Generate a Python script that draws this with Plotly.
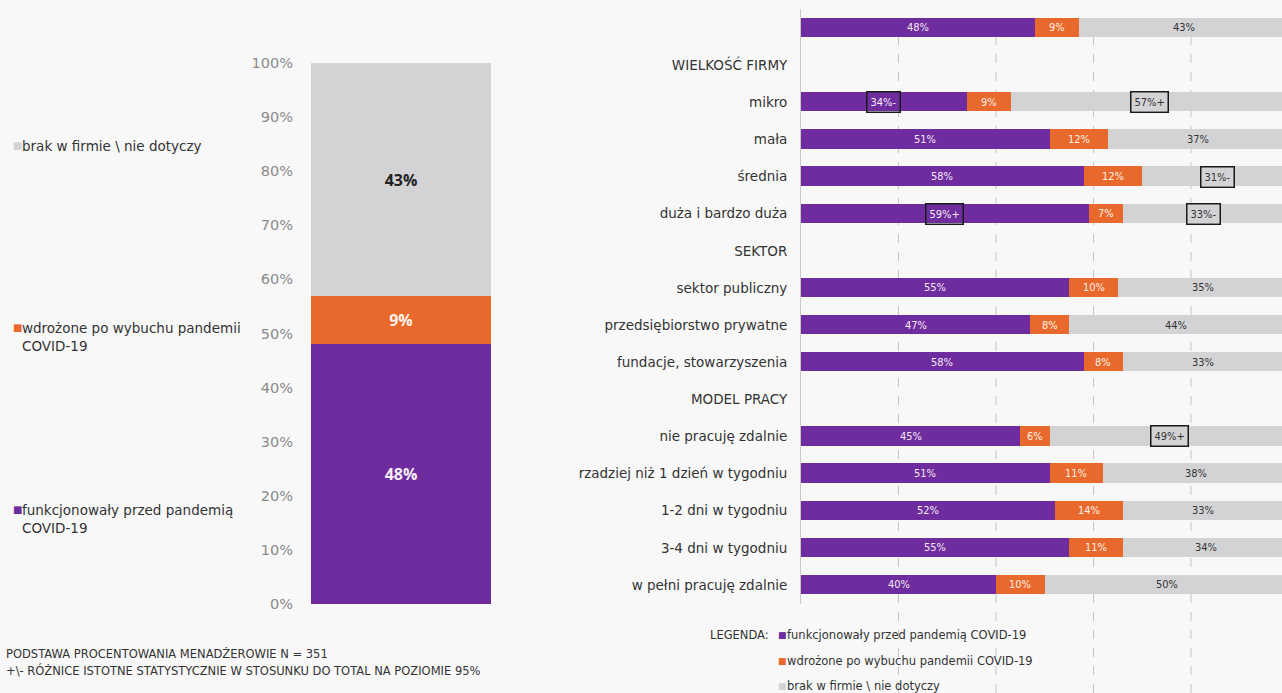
import plotly.graph_objects as go

# ---------------- data ----------------
categories = ["", "WIELKOŚĆ FIRMY", "mikro", "mała", "średnia", "duża i bardzo duża",
              "SEKTOR", "sektor publiczny", "przedsiębiorstwo prywatne", "fundacje, stowarzyszenia",
              "MODEL PRACY", "nie pracuję zdalnie", "rzadziej niż 1 dzień w tygodniu",
              "1-2 dni w tygodniu", "3-4 dni w tygodniu", "w pełni pracuję zdalnie"]
pre =    [48, None, 34, 51, 58, 59, None, 55, 47, 58, None, 45, 51, 52, 55, 40]
post =   [9,  None, 9,  12, 12, 7,  None, 10, 8,  8,  None, 6,  11, 14, 11, 10]
absent = [43, None, 57, 37, 31, 33, None, 35, 44, 33, None, 49, 38, 33, 34, 50]
pre_flag =    ["", "", "-", "", "", "+", "", "", "", "", "", "", "", "", "", ""]
post_flag =   ["", "", "", "", "", "", "", "", "", "", "", "", "", "", "", ""]
absent_flag = ["", "", "+", "", "-", "-", "", "", "", "", "", "+", "", "", "", ""]
series_names = ["funkcjonowały przed pandemią COVID-19",
                "wdrożone po wybuchu pandemii COVID-19",
                "brak w firmie \\ nie dotyczy"]
left_legend = ["brak w firmie \\ nie dotyczy",
               "wdrożone po wybuchu pandemii<br>COVID-19",
               "funkcjonowały przed pandemią<br>COVID-19"]
total_label = "TOTAL"
left_ticks = [0, 10, 20, 30, 40, 50, 60, 70, 80, 90, 100]
grid_x = [20, 40, 60, 80]
footnotes = ["PODSTAWA PROCENTOWANIA MENADŻEROWIE N = 351",
             "+\\- RÓŻNICE ISTOTNE STATYSTYCZNIE W STOSUNKU DO TOTAL NA POZIOMIE 95%"]

# ---------------- style ----------------
W, H = 1282, 693
PURPLE = "#6E2C9E"
ORANGE = "#E8692B"
GREY = "#D3D3D6"
BG = "#F8F8F8"
COND = "DejaVu Sans Condensed, Liberation Sans Narrow, Open Sans, sans-serif"
WIDE = "DejaVu Sans, Verdana, sans-serif"
TXT = "#333333"
colors = [PURPLE, ORANGE, GREY]
label_colors = ["#F6EAF6", "#FFF0E6", "#333333"]


def px(x):
    return x / W


def py(y):
    return 1 - y / H


rows = list(range(len(categories)))
series = [pre, post, absent]
flags = [pre_flag, post_flag, absent_flag]

fig = go.Figure()

# right chart: horizontal stacked bars
for s, name, c in zip(series, series_names, colors):
    fig.add_trace(go.Bar(y=rows, x=s, orientation="h", name=name, marker_color=c,
                         marker_line_width=0, width=0.52, showlegend=False,
                         xaxis="x", yaxis="y"))

# left chart: TOTAL vertical stacked bar
total = [s[0] for s in series]
left_text_colors = ["#FBEFFA", "#FFF2EA", "#222222"]
for v, name, c, tc in zip(total, series_names, colors, left_text_colors):
    fig.add_trace(go.Bar(x=[total_label], y=[v], name=name, marker_color=c,
                         marker_line_width=0, width=1, showlegend=False,
                         text=[f"{v}%"], textposition="inside", insidetextanchor="middle",
                         textangle=0,
                         textfont=dict(size=16, color=tc, family="Open Sans, sans-serif",
                                       weight="bold"),
                         xaxis="x2", yaxis="y2"))

annotations = []
# labels on right chart bars
for i in rows:
    base = 0
    for s, fl, lc in zip(series, flags, label_colors):
        v = s[i]
        if v is None:
            continue
        ann = dict(x=base + v / 2, y=i, xref="x", yref="y", text=f"{v}%{fl[i]}",
                   showarrow=False, font=dict(size=11, color=lc, family=COND))
        if fl[i]:
            ann.update(bordercolor="#1a1a1a", borderwidth=1.5, borderpad=3)
        annotations.append(ann)
        base += v

# left legend (squares + text)
left_leg_y = [145, 327, 509]
left_leg_colors = [GREY, ORANGE, PURPLE]
for t, yy, c in zip(left_legend, left_leg_y, left_leg_colors):
    annotations.append(dict(x=px(11), y=py(yy), xref="paper", yref="paper", text="■",
                            showarrow=False, xanchor="left", yanchor="middle",
                            font=dict(size=10, color=c, family=WIDE)))
    annotations.append(dict(x=px(20), y=py(yy - 9), xref="paper", yref="paper", text=t,
                            showarrow=False, xanchor="left", yanchor="top", align="left",
                            font=dict(size=13.5, color=TXT, family=WIDE)))

# footnotes
for k, t in enumerate(footnotes):
    annotations.append(dict(x=px(4), y=py(653 + 17 * k), xref="paper", yref="paper", text=t,
                            showarrow=False, xanchor="left", yanchor="middle",
                            font=dict(size=11.5, color=TXT, family=WIDE)))

# right legend
annotations.append(dict(x=px(771), y=py(635), xref="paper", yref="paper", text="LEGENDA:",
                        showarrow=False, xanchor="right", yanchor="middle",
                        font=dict(size=11.5, color=TXT, family=WIDE)))
for k, (t, c) in enumerate(zip(series_names, colors)):
    yy = 635 + 25.5 * k
    annotations.append(dict(x=px(776), y=py(yy), xref="paper", yref="paper", text="■",
                            showarrow=False, xanchor="left", yanchor="middle",
                            font=dict(size=9, color=c, family=WIDE)))
    annotations.append(dict(x=px(785), y=py(yy), xref="paper", yref="paper", text=t,
                            showarrow=False, xanchor="left", yanchor="middle",
                            font=dict(size=11.5, color=TXT, family=WIDE)))

# dashed gridlines
shapes = []
for gx in grid_x:
    shapes.append(dict(type="line", xref="x", yref="paper", x0=gx, x1=gx, y0=0, y1=0.9864,
                       line=dict(color="#C4C4C4", width=1, dash="dash"), layer="below"))

x_max = (W - 801) / 4.875

fig.update_layout(
    width=W, height=H,
    margin=dict(l=0, r=0, t=0, b=0, pad=0, autoexpand=False),
    paper_bgcolor=BG, plot_bgcolor=BG,
    barmode="stack", bargap=0,
    font=dict(family=COND, color=TXT),
    showlegend=False,
    annotations=annotations,
    shapes=shapes,
    xaxis=dict(domain=[px(801), 1.0], range=[0, x_max], showgrid=False, zeroline=False,
               showticklabels=False, anchor="y", automargin=False),
    yaxis=dict(domain=[0.1291, 0.9864], range=[15.5, -0.5], tickmode="array",
               tickvals=rows, ticktext=categories, showgrid=False, zeroline=False,
               showline=True, linecolor="#C8C8C8", linewidth=1, ticks="",
               ticklabelstandoff=10, tickfont=dict(size=13.5, color=TXT, family=WIDE),
               anchor="x", automargin=False),
    xaxis2=dict(domain=[px(311), px(491)], range=[-0.5, 0.5], showgrid=False,
                zeroline=False, showticklabels=False, anchor="y2", automargin=False),
    yaxis2=dict(domain=[py(604), py(63)], range=[0, 100], tickmode="array",
                tickvals=left_ticks, ticktext=[f"{t}%" for t in left_ticks],
                showgrid=False, zeroline=False,
                ticks="", ticklabelstandoff=17,
                tickfont=dict(size=14.5, color="#8A8A8A", family=WIDE), anchor="x2",
                automargin=False),
)

fig.write_html("out.html")
